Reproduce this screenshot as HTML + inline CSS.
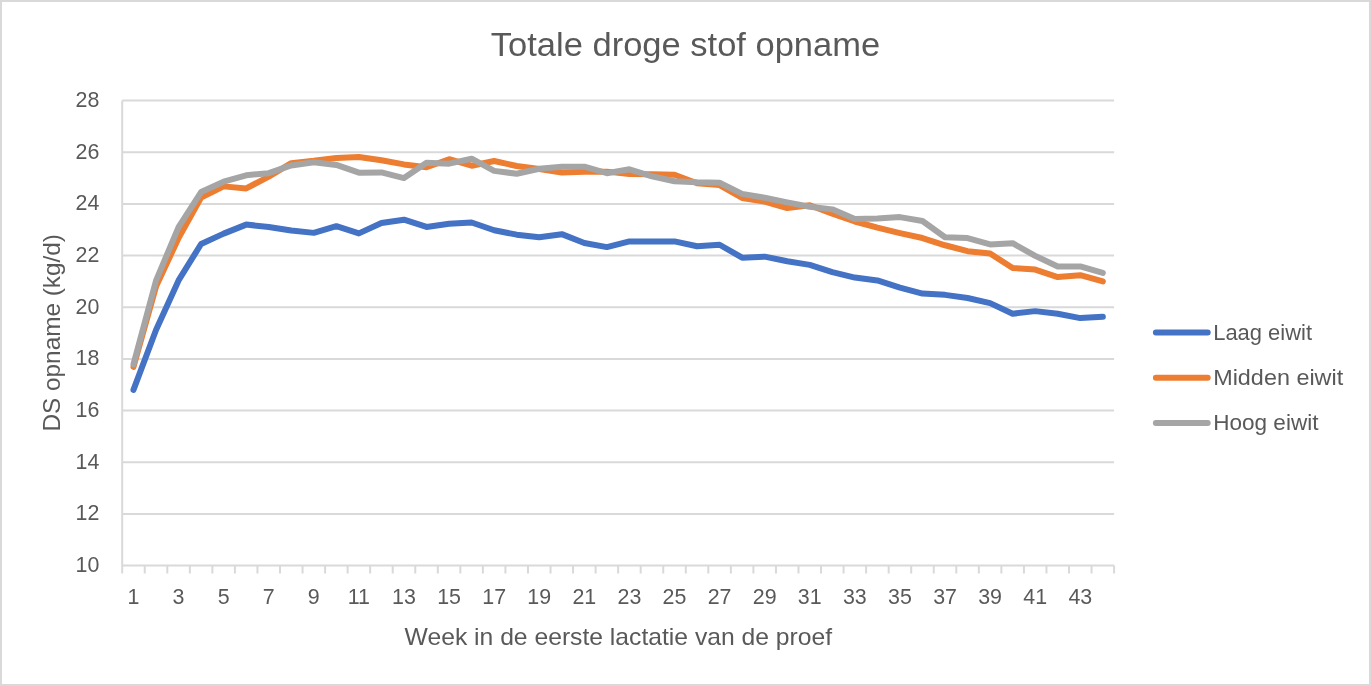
<!DOCTYPE html>
<html><head><meta charset="utf-8"><title>Totale droge stof opname</title>
<style>html,body{margin:0;padding:0;background:#fff;}body{width:1371px;height:686px;overflow:hidden;}svg{display:block;will-change:transform;}text{font-family:"Liberation Sans",sans-serif;fill:#595959;}</style>
</head><body>
<svg width="1371" height="686" viewBox="0 0 1371 686">
<rect x="1" y="1" width="1369" height="684" fill="#fff" stroke="#d9d9d9" stroke-width="2"/>
<path d="M122.20,513.93H1114.10M122.20,462.27H1114.10M122.20,410.60H1114.10M122.20,358.93H1114.10M122.20,307.27H1114.10M122.20,255.60H1114.10M122.20,203.93H1114.10M122.20,152.27H1114.10M122.20,100.60H1114.10" stroke="#d9d9d9" stroke-width="2" fill="none"/>
<path d="M122.20,100.60V573.60M122.20,565.60H1114.10M144.74,565.60V573.60M167.29,565.60V573.60M189.83,565.60V573.60M212.37,565.60V573.60M234.92,565.60V573.60M257.46,565.60V573.60M280.00,565.60V573.60M302.55,565.60V573.60M325.09,565.60V573.60M347.63,565.60V573.60M370.17,565.60V573.60M392.72,565.60V573.60M415.26,565.60V573.60M437.80,565.60V573.60M460.35,565.60V573.60M482.89,565.60V573.60M505.43,565.60V573.60M527.98,565.60V573.60M550.52,565.60V573.60M573.06,565.60V573.60M595.61,565.60V573.60M618.15,565.60V573.60M640.69,565.60V573.60M663.24,565.60V573.60M685.78,565.60V573.60M708.32,565.60V573.60M730.87,565.60V573.60M753.41,565.60V573.60M775.95,565.60V573.60M798.50,565.60V573.60M821.04,565.60V573.60M843.58,565.60V573.60M866.12,565.60V573.60M888.67,565.60V573.60M911.21,565.60V573.60M933.75,565.60V573.60M956.30,565.60V573.60M978.84,565.60V573.60M1001.38,565.60V573.60M1023.93,565.60V573.60M1046.47,565.60V573.60M1069.01,565.60V573.60M1091.56,565.60V573.60M1114.10,565.60V573.60" stroke="#d9d9d9" stroke-width="2" fill="none"/>
<path d="M133.47,389.93 L156.01,330.00 L178.56,280.40 L201.10,243.98 L223.64,233.64 L246.19,224.60 L268.73,226.93 L291.27,230.54 L313.82,232.87 L336.36,226.15 L358.90,233.38 L381.45,223.05 L403.99,219.69 L426.53,226.93 L449.08,223.83 L471.62,222.53 L494.16,230.28 L516.71,234.68 L539.25,237.26 L561.79,234.16 L584.34,242.94 L606.88,247.08 L629.42,241.39 L651.96,241.39 L674.51,241.39 L697.05,246.30 L719.59,244.75 L742.14,257.67 L764.68,256.63 L787.22,261.28 L809.77,264.90 L832.31,272.13 L854.85,277.56 L877.40,280.40 L899.94,287.63 L922.48,293.57 L945.03,294.87 L967.57,297.97 L990.11,303.13 L1012.66,313.73 L1035.20,311.14 L1057.74,313.73 L1080.29,318.12 L1102.83,316.83" stroke="#4472c4" stroke-width="6.0" fill="none" stroke-linejoin="round" stroke-linecap="round"/>
<path d="M133.47,366.94 L156.01,286.60 L178.56,238.03 L201.10,197.48 L223.64,186.37 L246.19,188.43 L268.73,176.55 L291.27,163.12 L313.82,160.79 L336.36,157.95 L358.90,156.92 L381.45,160.27 L403.99,164.41 L426.53,167.25 L449.08,159.24 L471.62,165.70 L494.16,161.05 L516.71,165.96 L539.25,169.06 L561.79,172.42 L584.34,171.64 L606.88,171.64 L629.42,173.97 L651.96,174.23 L674.51,174.74 L697.05,183.27 L719.59,185.08 L742.14,197.99 L764.68,201.61 L787.22,208.07 L809.77,205.23 L832.31,213.75 L854.85,221.50 L877.40,227.70 L899.94,233.12 L922.48,238.03 L945.03,245.27 L967.57,251.21 L990.11,253.53 L1012.66,268.00 L1035.20,269.55 L1057.74,277.04 L1080.29,275.23 L1102.83,281.43" stroke="#ed7d31" stroke-width="6.0" fill="none" stroke-linejoin="round" stroke-linecap="round"/>
<path d="M133.47,364.36 L156.01,280.66 L178.56,227.18 L201.10,192.05 L223.64,181.72 L246.19,175.26 L268.73,173.19 L291.27,165.44 L313.82,162.34 L336.36,164.93 L358.90,172.68 L381.45,172.42 L403.99,178.10 L426.53,162.86 L449.08,163.63 L471.62,158.73 L494.16,170.87 L516.71,173.71 L539.25,168.80 L561.79,166.73 L584.34,166.73 L606.88,173.19 L629.42,169.32 L651.96,176.29 L674.51,181.20 L697.05,182.23 L719.59,182.75 L742.14,193.86 L764.68,197.73 L787.22,202.38 L809.77,206.77 L832.31,209.36 L854.85,218.92 L877.40,218.40 L899.94,217.11 L922.48,220.98 L945.03,237.26 L967.57,238.03 L990.11,244.49 L1012.66,243.20 L1035.20,255.86 L1057.74,266.45 L1080.29,266.45 L1102.83,272.91" stroke="#a5a5a5" stroke-width="6.0" fill="none" stroke-linejoin="round" stroke-linecap="round"/>
<text x="685.5" y="56.2" font-size="33.4" text-anchor="middle" textLength="389.4" lengthAdjust="spacingAndGlyphs">Totale droge stof opname</text>
<text x="99.4" y="571.90" font-size="21.4" text-anchor="end">10</text>
<text x="99.4" y="520.23" font-size="21.4" text-anchor="end">12</text>
<text x="99.4" y="468.57" font-size="21.4" text-anchor="end">14</text>
<text x="99.4" y="416.90" font-size="21.4" text-anchor="end">16</text>
<text x="99.4" y="365.23" font-size="21.4" text-anchor="end">18</text>
<text x="99.4" y="313.57" font-size="21.4" text-anchor="end">20</text>
<text x="99.4" y="261.90" font-size="21.4" text-anchor="end">22</text>
<text x="99.4" y="210.23" font-size="21.4" text-anchor="end">24</text>
<text x="99.4" y="158.57" font-size="21.4" text-anchor="end">26</text>
<text x="99.4" y="106.90" font-size="21.4" text-anchor="end">28</text>
<text x="133.47" y="604.3" font-size="21.4" text-anchor="middle">1</text>
<text x="178.56" y="604.3" font-size="21.4" text-anchor="middle">3</text>
<text x="223.64" y="604.3" font-size="21.4" text-anchor="middle">5</text>
<text x="268.73" y="604.3" font-size="21.4" text-anchor="middle">7</text>
<text x="313.82" y="604.3" font-size="21.4" text-anchor="middle">9</text>
<text x="358.90" y="604.3" font-size="21.4" text-anchor="middle">11</text>
<text x="403.99" y="604.3" font-size="21.4" text-anchor="middle">13</text>
<text x="449.08" y="604.3" font-size="21.4" text-anchor="middle">15</text>
<text x="494.16" y="604.3" font-size="21.4" text-anchor="middle">17</text>
<text x="539.25" y="604.3" font-size="21.4" text-anchor="middle">19</text>
<text x="584.34" y="604.3" font-size="21.4" text-anchor="middle">21</text>
<text x="629.42" y="604.3" font-size="21.4" text-anchor="middle">23</text>
<text x="674.51" y="604.3" font-size="21.4" text-anchor="middle">25</text>
<text x="719.59" y="604.3" font-size="21.4" text-anchor="middle">27</text>
<text x="764.68" y="604.3" font-size="21.4" text-anchor="middle">29</text>
<text x="809.77" y="604.3" font-size="21.4" text-anchor="middle">31</text>
<text x="854.85" y="604.3" font-size="21.4" text-anchor="middle">33</text>
<text x="899.94" y="604.3" font-size="21.4" text-anchor="middle">35</text>
<text x="945.03" y="604.3" font-size="21.4" text-anchor="middle">37</text>
<text x="990.11" y="604.3" font-size="21.4" text-anchor="middle">39</text>
<text x="1035.20" y="604.3" font-size="21.4" text-anchor="middle">41</text>
<text x="1080.29" y="604.3" font-size="21.4" text-anchor="middle">43</text>
<text x="618.35" y="644.5" font-size="24" text-anchor="middle" textLength="427.5" lengthAdjust="spacingAndGlyphs">Week in de eerste lactatie van de proef</text>
<text transform="translate(60.4,332.8) rotate(-90)" x="0" y="0" font-size="24" text-anchor="middle" textLength="197.4" lengthAdjust="spacingAndGlyphs">DS opname (kg/d)</text>
<path d="M1155.9,332.40H1207.7" stroke="#4472c4" stroke-width="6" stroke-linecap="round"/>
<text x="1213.2" y="339.50" font-size="21.6" textLength="98.8" lengthAdjust="spacingAndGlyphs">Laag eiwit</text>
<path d="M1155.9,377.80H1207.7" stroke="#ed7d31" stroke-width="6" stroke-linecap="round"/>
<text x="1213.2" y="384.70" font-size="21.6" textLength="130.0" lengthAdjust="spacingAndGlyphs">Midden eiwit</text>
<path d="M1155.9,423.10H1207.7" stroke="#a5a5a5" stroke-width="6" stroke-linecap="round"/>
<text x="1213.2" y="429.80" font-size="21.6" textLength="105.3" lengthAdjust="spacingAndGlyphs">Hoog eiwit</text>
</svg>
</body></html>
